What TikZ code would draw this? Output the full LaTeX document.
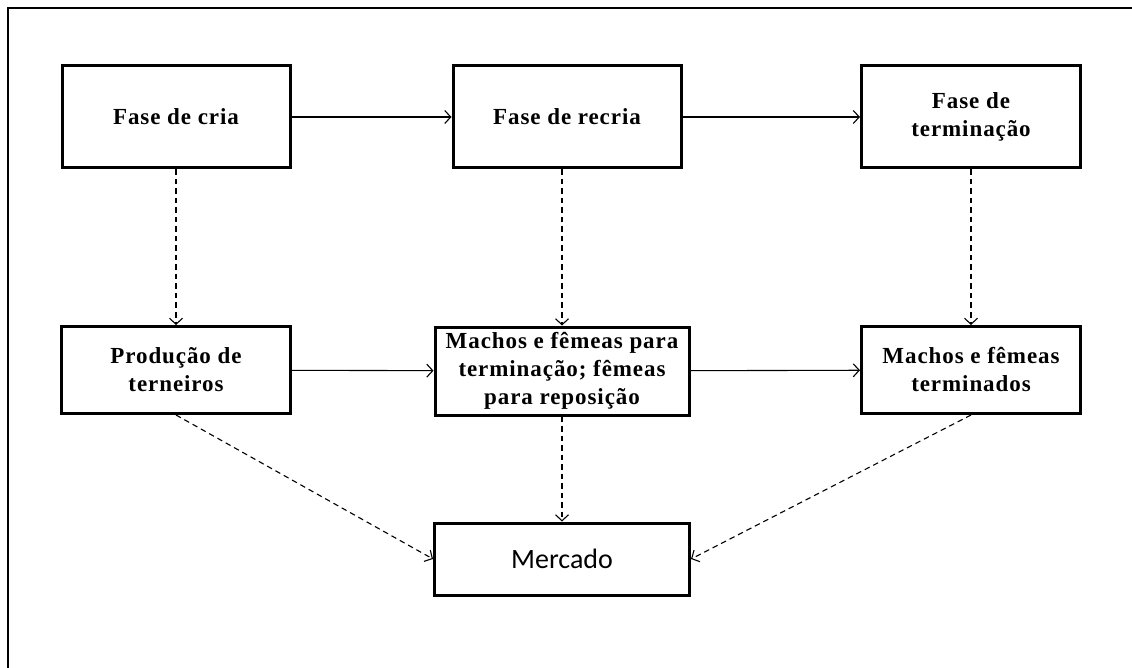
\documentclass[tikz,border=0pt]{standalone}
\usepackage{fontspec}
\setmainfont{Liberation Serif}[LetterSpace=4]
\newfontfamily\calfont{Carlito}
\usetikzlibrary{arrows.meta}

\tikzset{
    fase/.style={draw, line width=3pt, inner sep=0pt, align=center,
        font=\bfseries\fontsize{23}{28}\selectfont},
    fluxo/.style={line width=1.1pt, -{Straight Barb[length=6pt,width=13pt]}},
    saida/.style={fluxo, dash pattern=on 5.5pt off 4pt}
}

\begin{document}
\begin{tikzpicture}[x=1pt, y=-1pt]
    \useasboundingbox (0,0) rectangle (1132,668);
    % moldura
    \draw[line width=2.4pt] (1132,8) -- (8,8) -- (8,668);

    % fases
    \node[fase, minimum width=228pt, minimum height=102pt] (cria) at (176,117) {Fase de cria};
    \node[fase, minimum width=228pt, minimum height=102pt] (recria) at (567,117) {Fase de recria};
    \node[fase, minimum width=219pt, minimum height=102pt] (term) at (971,117) {Fase de\\terminação};

    % produtos
    \node[fase, minimum width=229pt, minimum height=87pt] (prod) at (176,370) {Produção de\\terneiros};
    \node[fase, minimum width=254pt, minimum height=88pt] (machos) at (562,371) {Machos e fêmeas para\\terminação; fêmeas\\para reposição};
    \node[fase, minimum width=219pt, minimum height=87pt] (termin) at (971,370) {Machos e fêmeas\\terminados};
    \node[fase, minimum width=255pt, minimum height=72pt, font=\calfont\fontsize{28}{32}\selectfont] (merc) at (562,559) {Mercado};

    \draw[fluxo] (cria) -- (recria);
    \draw[fluxo] (recria) -- (term);
    \draw[fluxo] (prod) -- (machos);
    \draw[fluxo] (machos) -- (termin);

    \draw[saida] (cria) -- (prod);
    \draw[saida] (machos |- recria.south) -- (machos.north);
    \draw[saida] (term) -- (termin);

    \draw[saida] (prod.south) -- (merc.west);
    \draw[saida] (machos) -- (merc);
    \draw[saida] (termin.south) -- (merc.east);
\end{tikzpicture}
\end{document}
